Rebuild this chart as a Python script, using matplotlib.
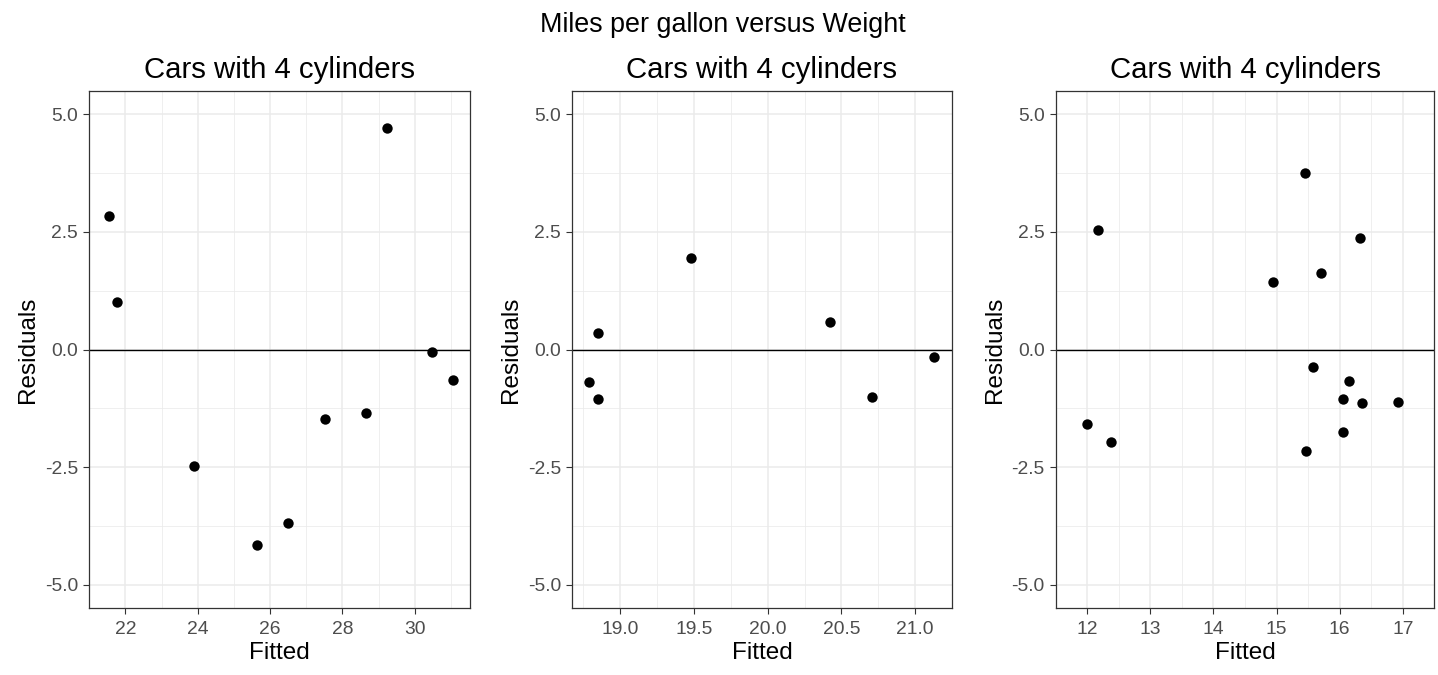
import matplotlib
matplotlib.use("Agg")
import matplotlib.pyplot as plt
import numpy as np

plt.rcParams['font.family'] = ['Liberation Sans', 'DejaVu Sans']
plt.rcParams['axes.unicode_minus'] = False

suptitle = "Miles per gallon versus Weight"
panel_titles = ["Cars with 4 cylinders", "Cars with 4 cylinders", "Cars with 4 cylinders"]

# values
fitted_1 = [21.55, 21.77, 23.90, 25.65, 26.48, 27.51, 28.66, 29.22, 30.48, 31.05]
resid_1 = [2.84, 1.00, -2.48, -4.16, -3.69, -1.48, -1.34, 4.70, -0.05, -0.64]

fitted_2 = [18.79, 18.85, 18.85, 19.48, 20.42, 20.71, 21.13]
resid_2 = [-0.69, 0.35, -1.05, 1.94, 0.59, -1.02, -0.15]

fitted_3 = [11.99, 12.17, 12.37, 14.95, 15.45, 15.46, 15.58, 15.70,
            16.05, 16.05, 16.15, 16.32, 16.35, 16.92]
resid_3 = [-1.58, 2.55, -1.96, 1.44, 3.76, -2.16, -0.37, 1.62,
           -1.05, -1.76, -0.67, 2.38, -1.14, -1.11]

x_major = [np.arange(22, 31, 2), np.arange(19.0, 21.01, 0.5), np.arange(12, 18, 1)]
x_minor = [np.arange(21, 32, 2), np.arange(18.75, 21.3, 0.5), np.arange(11.5, 17.6, 1)]
x_fmt = ["{:.0f}", "{:.1f}", "{:.0f}"]
y_major = [-5.0, -2.5, 0.0, 2.5, 5.0]
y_minor = [-3.75, -1.25, 1.25, 3.75]

W, H = 1438, 675
fig = plt.figure(figsize=(W / 100, H / 100), dpi=100)

# panel edges in pixels (left, right), shared top/bottom
edges = [(89.3, 470), (572, 952), (1055.7, 1434.3)]
top, bottom = 90.7, 608.3

data = [(fitted_1, resid_1), (fitted_2, resid_2), (fitted_3, resid_3)]

for i, (fx, ry) in enumerate(data):
    l, r = edges[i]
    ax = fig.add_axes([l / W, 1 - bottom / H, (r - l) / W, (bottom - top) / H])
    ax.set_axisbelow(True)
    ax.scatter(fx, ry, s=56, color='black', linewidths=0, zorder=3)
    ax.axhline(0, color='black', linewidth=1.0, zorder=2)
    ax.margins(x=0.05)
    ax.set_ylim(-5.5, 5.5)

    ax.set_xticks(x_major[i])
    ax.set_xticks(x_minor[i], minor=True)
    ax.set_xticklabels([x_fmt[i].format(v) for v in x_major[i]])
    ax.set_yticks(y_major)
    ax.set_yticks(y_minor, minor=True)
    ax.set_yticklabels(["{:.1f}".format(v) for v in y_major])

    ax.grid(which='major', color='#EBEBEB', linewidth=1.1)
    ax.grid(which='minor', color='#EBEBEB', linewidth=0.55)
    ax.tick_params(which='major', length=4.5, width=0.8, color='#333333',
                   labelsize=13.9, labelcolor='#4D4D4D')
    ax.tick_params(axis='x', which='major', pad=4.5)
    ax.tick_params(axis='y', which='major', pad=3.5)
    ax.tick_params(which='minor', length=0)
    for sp in ax.spines.values():
        sp.set_color('#333333')
        sp.set_linewidth(0.9)

    ax.set_xlabel("Fitted", fontsize=17.5, labelpad=3.3)
    ax.set_ylabel("Residuals", fontsize=17.5, labelpad=4)
    ax.set_title(panel_titles[i], fontsize=21.2, pad=9.5)

fig.text(723 / W, 1 - 31.7 / H, suptitle, ha='center', va='baseline', fontsize=19.4)

fig.savefig("out.png", dpi=100)
